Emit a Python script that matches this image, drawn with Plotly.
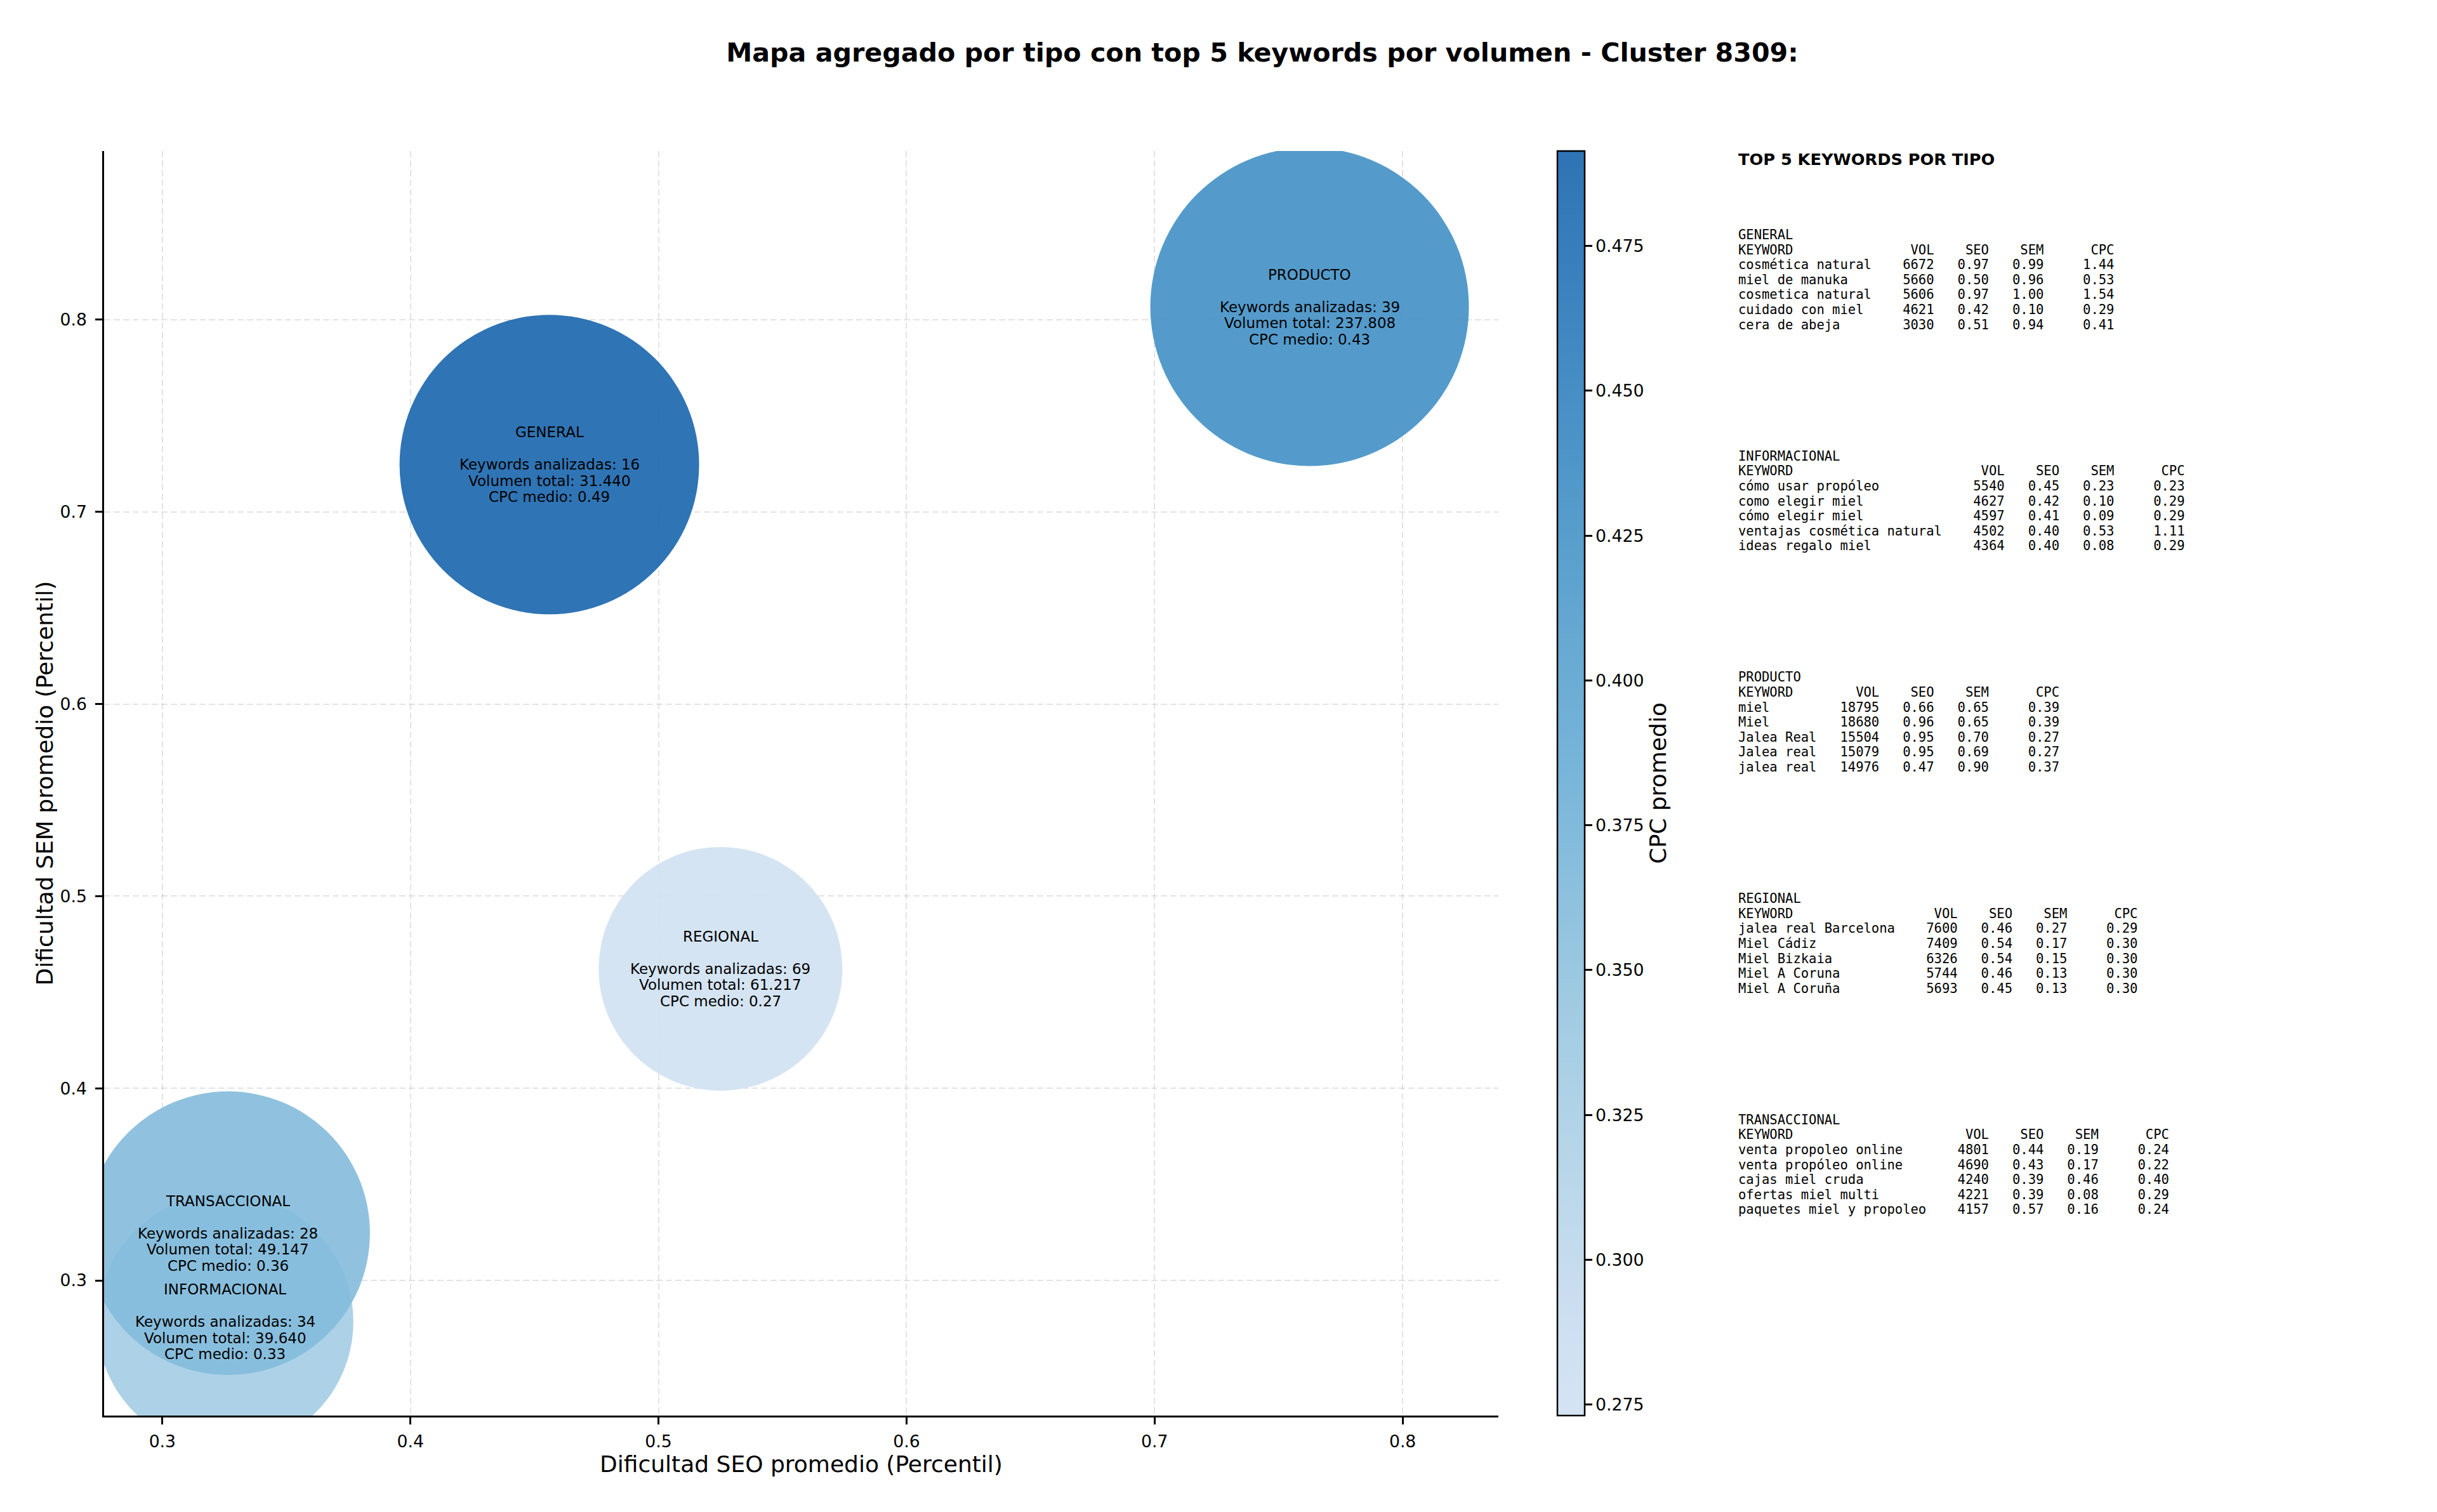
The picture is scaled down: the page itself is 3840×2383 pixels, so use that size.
import plotly.graph_objects as go

# ---------------- data ----------------
tipos = ["GENERAL", "INFORMACIONAL", "PRODUCTO", "REGIONAL", "TRANSACCIONAL"]
seo_mean = [0.456, 0.3253, 0.7625, 0.525, 0.3265]
sem_mean = [0.7246, 0.2785, 0.8067, 0.4622, 0.3246]
n_keywords = [16, 34, 39, 69, 28]
vol_total = [31440, 39640, 237808, 61217, 49147]
cpc_mean = [0.49, 0.33, 0.43, 0.27, 0.36]
cpc_range = [0.2731, 0.4914]

cb_ticks = [0.275, 0.300, 0.325, 0.350, 0.375, 0.400, 0.425, 0.450, 0.475]
x_ticks = [0.3, 0.4, 0.5, 0.6, 0.7, 0.8]
y_ticks = [0.3, 0.4, 0.5, 0.6, 0.7, 0.8]

top_keywords = {
    "GENERAL": ["cosmética natural", "miel de manuka", "cosmetica natural", "cuidado con miel", "cera de abeja"],
    "INFORMACIONAL": ["cómo usar propóleo", "como elegir miel", "cómo elegir miel", "ventajas cosmética natural", "ideas regalo miel"],
    "PRODUCTO": ["miel", "Miel", "Jalea Real", "Jalea real", "jalea real"],
    "REGIONAL": ["jalea real Barcelona", "Miel Cádiz", "Miel Bizkaia", "Miel A Coruna", "Miel A Coruña"],
    "TRANSACCIONAL": ["venta propoleo online", "venta propóleo online", "cajas miel cruda", "ofertas miel multi", "paquetes miel y propoleo"],
}
top_vol = {
    "GENERAL": [6672, 5660, 5606, 4621, 3030],
    "INFORMACIONAL": [5540, 4627, 4597, 4502, 4364],
    "PRODUCTO": [18795, 18680, 15504, 15079, 14976],
    "REGIONAL": [7600, 7409, 6326, 5744, 5693],
    "TRANSACCIONAL": [4801, 4690, 4240, 4221, 4157],
}
top_seo = {
    "GENERAL": [0.97, 0.50, 0.97, 0.42, 0.51],
    "INFORMACIONAL": [0.45, 0.42, 0.41, 0.40, 0.40],
    "PRODUCTO": [0.66, 0.96, 0.95, 0.95, 0.47],
    "REGIONAL": [0.46, 0.54, 0.54, 0.46, 0.45],
    "TRANSACCIONAL": [0.44, 0.43, 0.39, 0.39, 0.57],
}
top_sem = {
    "GENERAL": [0.99, 0.96, 1.00, 0.10, 0.94],
    "INFORMACIONAL": [0.23, 0.10, 0.09, 0.53, 0.08],
    "PRODUCTO": [0.65, 0.65, 0.70, 0.69, 0.90],
    "REGIONAL": [0.27, 0.17, 0.15, 0.13, 0.13],
    "TRANSACCIONAL": [0.19, 0.17, 0.46, 0.08, 0.16],
}
top_cpc = {
    "GENERAL": [1.44, 0.53, 1.54, 0.29, 0.41],
    "INFORMACIONAL": [0.23, 0.29, 0.29, 1.11, 0.29],
    "PRODUCTO": [0.39, 0.39, 0.27, 0.27, 0.37],
    "REGIONAL": [0.29, 0.30, 0.30, 0.30, 0.30],
    "TRANSACCIONAL": [0.24, 0.22, 0.40, 0.29, 0.24],
}

# ---------------- style ----------------
OFF = 8                                   # default page body margin
WIN_W, WIN_H = 3840, 2383
FIG_W, FIG_H = WIN_W - 2 * OFF, WIN_H - 2 * OFF
# plot area in page px
PL, PR, PT, PB = 164, 2361, 238, 2231
bubble_diam_px = [472, 404, 502, 384, 447]      # marker diameters (style)
FONT = "DejaVu Sans"
MONO = "DejaVu Sans Mono"


def xp(px):
    return (px - PL) / (PR - PL)


def yp(py):
    return (PB - py) / (PB - PT)


blues = ["#f7fbff", "#deebf7", "#c6dbef", "#9ecae1", "#6baed6",
         "#4292c6", "#2171b5", "#08519c", "#08306b"]


def hex2rgb(h):
    return tuple(int(h[i:i + 2], 16) for i in (1, 3, 5))


def blues_at(t):
    pos = t * (len(blues) - 1)
    i = min(int(pos), len(blues) - 2)
    f = pos - i
    a, b = hex2rgb(blues[i]), hex2rgb(blues[i + 1])
    return tuple(a[k] + (b[k] - a[k]) * f for k in range(3))


ALPHA = 0.9
colorscale = []
for k in range(13):
    s = k / 12
    r, g, b = blues_at(0.2 + 0.6 * s)
    colorscale.append([s, f"rgba({r:.0f},{g:.0f},{b:.0f},{ALPHA})"])

fig = go.Figure()
fig.add_trace(go.Scatter(
    x=seo_mean, y=sem_mean, mode="markers",
    marker=dict(
        size=bubble_diam_px, sizemode="diameter", opacity=1,
        color=cpc_mean, colorscale=colorscale,
        cmin=cpc_range[0], cmax=cpc_range[1],
        line=dict(width=0),
        showscale=True,
        colorbar=dict(
            thickness=43, len=1.0, lenmode="fraction",
            y=0.5, yanchor="middle", ypad=0,
            x=xp(2454), xanchor="left", xpad=0,
            outlinewidth=2.5, outlinecolor="black",
            ticks="outside", ticklen=11, tickwidth=2.5, tickcolor="black",
            tickvals=cb_ticks, tickformat=".3f",
            tickfont=dict(family=FONT, size=26.7, color="black"),
        ),
    ),
    text=tipos, hoverinfo="text", showlegend=False,
))

annotations = []
# bubble labels
LINE_B = 25.5
for i, t in enumerate(tipos):
    vol_str = f"{vol_total[i]:,}".replace(",", ".")
    lines = [t, "", f"Keywords analizadas: {n_keywords[i]}",
             f"Volumen total: {vol_str}", f"CPC medio: {cpc_mean[i]:.2f}"]
    for j, line in enumerate(lines):
        if not line:
            continue
        annotations.append(dict(
            x=seo_mean[i], y=sem_mean[i], xref="x", yref="y",
            text=line, showarrow=False, yshift=(2 - j) * LINE_B,
            xanchor="center", yanchor="middle",
            font=dict(family=FONT, size=23, color="black"),
        ))

# colorbar title
annotations.append(dict(
    x=xp(2612), y=0.5, xref="paper", yref="paper", text="CPC promedio",
    textangle=-90, showarrow=False, xanchor="center", yanchor="middle",
    font=dict(family=FONT, size=36, color="black"),
))

# table block
TX = 2737
annotations.append(dict(
    x=xp(TX), y=yp(251), xref="paper", yref="paper",
    text="TOP 5 KEYWORDS POR TIPO", showarrow=False,
    xanchor="left", yanchor="middle",
    font=dict(family=FONT, size=25.6, color="black", weight=700),
))
SEC0, SEC_STEP, LINE_T = 370, 348.7, 23.6
for i, t in enumerate(tipos):
    kws = top_keywords[t]
    w = max(len(k) for k in kws)
    rows = [t, "KEYWORD".ljust(w) + f"{'VOL':>8}{'SEO':>7}{'SEM':>7}{'CPC':>9}"]
    for k in range(len(kws)):
        rows.append(kws[k].ljust(w) + f"{top_vol[t][k]:>8}{top_seo[t][k]:>7.2f}"
                    f"{top_sem[t][k]:>7.2f}{top_cpc[t][k]:>9.2f}")
    for j, row in enumerate(rows):
        annotations.append(dict(
            x=xp(TX), y=yp(SEC0 + SEC_STEP * i + LINE_T * j),
            xref="paper", yref="paper",
            text=row.replace(" ", "\u00a0"), showarrow=False,
            xanchor="left", yanchor="middle",
            font=dict(family=MONO, size=20.5, color="black"),
        ))

axis_common = dict(
    showline=True, linecolor="black", linewidth=2.5, mirror=False,
    ticks="outside", ticklen=11, tickwidth=2.5, tickcolor="black",
    tickfont=dict(family=FONT, size=26.7, color="black"),
    showgrid=True, gridcolor="rgba(176,176,176,0.35)", gridwidth=2,
    griddash="10px,5px", zeroline=False,
)

fig.update_layout(
    width=FIG_W, height=FIG_H,
    margin=dict(l=PL - OFF, r=FIG_W - (PR - OFF), t=PT - OFF,
                b=FIG_H - (PB - OFF), autoexpand=False),
    paper_bgcolor="white", plot_bgcolor="white",
    title=dict(
        text="Mapa agregado por tipo con top 5 keywords por volumen - Cluster 8309:",
        x=(1989 - OFF) / FIG_W, xref="container", xanchor="center",
        y=1 - (83 - OFF) / FIG_H, yref="container", yanchor="middle",
        font=dict(family=FONT, size=41.2, color="black", weight=700),
    ),
    xaxis=dict(
        range=[0.2765, 0.8386], tickvals=x_ticks, tickformat=".1f",
        ticklabelstandoff=4,
        title=dict(text="Dificultad SEO promedio (Percentil)", standoff=3,
                   font=dict(family=FONT, size=36, color="black")),
        **axis_common,
    ),
    yaxis=dict(
        range=[0.2297, 0.8878], tickvals=y_ticks, tickformat=".1f",
        ticklabelstandoff=8,
        title=dict(text="Dificultad SEM promedio (Percentil)", standoff=0,
                   font=dict(family=FONT, size=36, color="black")),
        **axis_common,
    ),
    annotations=annotations,
    font=dict(family=FONT, color="black"),
)

fig.write_html("out.html")
